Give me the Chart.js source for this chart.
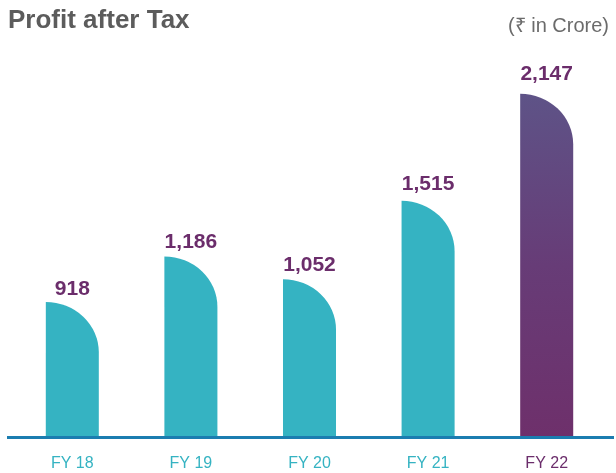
<!DOCTYPE html>
<html>
<head>
<meta charset="utf-8">
<script src="https://cdn.jsdelivr.net/npm/chart.js@4.4.0/dist/chart.umd.min.js"></script>
<style>
html, body { margin: 0; padding: 0; background: #fff; }
#wrap { width: 616px; height: 473px; }
</style>
</head>
<body>
<div id="wrap"><canvas id="chart"></canvas></div>
<script>
const years = ['FY 18', 'FY 19', 'FY 20', 'FY 21', 'FY 22']
const profit = [918, 1186, 1052, 1515, 2147]
const valueLabels = ['918', '1,186', '1,052', '1,515', '2,147']
const yMin = 120
const yMax = 2400

const teal = '#35b3c2'
const plum = '#6b2d6b'
const font = "'Liberation Sans', Arial, Helvetica, sans-serif"

Chart.defaults.font.family = font

// bars are drawn here: flat left edge, big quarter-round top right
const roundBars = {
    id: 'roundBars',
    afterDatasetsDraw(chart) {
        const ctx = chart.ctx
        const area = chart.chartArea
        const meta = chart.getDatasetMeta(0)
        const last = meta.data.length - 1
        meta.data.forEach((bar, i) => {
            const { x, y, base, width } = bar.getProps(['x', 'y', 'base', 'width'], true)
            const left = x - width / 2
            const right = x + width / 2
            const bottom = Math.min(base, area.bottom)
            const r = Math.min(width * 0.95, bottom - y)
            ctx.save()
            if (i === last) {
                const g = ctx.createLinearGradient(0, y, 0, bottom)
                g.addColorStop(0, '#5e5387')
                g.addColorStop(0.5, '#673c77')
                g.addColorStop(1, '#6e306b')
                ctx.fillStyle = g
            } else {
                ctx.fillStyle = teal
            }
            ctx.beginPath()
            ctx.moveTo(left, bottom)
            ctx.lineTo(left, y)
            ctx.ellipse(left, y + r, width, r, 0, -Math.PI / 2, 0)
            ctx.lineTo(right, bottom)
            ctx.closePath()
            ctx.fill()
            ctx.restore()

            // value label
            const gap = 7 + (bottom - y - 135) * 0.034
            ctx.save()
            ctx.font = 'bold 21px ' + font
            ctx.fillStyle = plum
            ctx.textAlign = 'center'
            ctx.textBaseline = 'alphabetic'
            ctx.fillText(valueLabels[i], x, y - gap)
            ctx.restore()
        })
        // axis line
        ctx.save()
        ctx.fillStyle = '#1b7db0'
        ctx.fillRect(area.left - 6, area.bottom - 1, area.width + 14, 3)
        ctx.restore()
    },
    afterDraw(chart) {
        const ctx = chart.ctx
        ctx.save()
        ctx.font = 'bold 26px ' + font
        ctx.fillStyle = '#5c5c5c'
        ctx.textAlign = 'left'
        ctx.textBaseline = 'alphabetic'
        ctx.fillText('Profit after Tax', 8, 28)
        ctx.font = '20px ' + font
        ctx.fillStyle = '#6b6b6b'
        ctx.textAlign = 'right'
        ctx.fillText('(₹ in Crore)', 609, 32)
        ctx.restore()
    }
}

new Chart(document.getElementById('chart'), {
    type: 'bar',
    data: {
        labels: years,
        datasets: [{
            data: profit,
            backgroundColor: 'rgba(0,0,0,0)',
            borderWidth: 0,
            barPercentage: 0.447,
            categoryPercentage: 1
        }]
    },
    options: {
        responsive: true,
        maintainAspectRatio: false,
        animation: false,
        layout: { padding: { top: 51, left: 13, right: 10, bottom: 0 } },
        scales: {
            x: {
                grid: { display: false, drawTicks: false },
                border: { display: false },
                afterFit: s => { s.height = 36 },
                ticks: {
                    padding: 17,
                    font: { size: 16 },
                    color: c => c.index === 4 ? plum : teal
                }
            },
            y: { display: false, min: yMin, max: yMax }
        },
        plugins: {
            legend: { display: false },
            tooltip: { enabled: false }
        }
    },
    plugins: [roundBars]
})
</script>
</body>
</html>
